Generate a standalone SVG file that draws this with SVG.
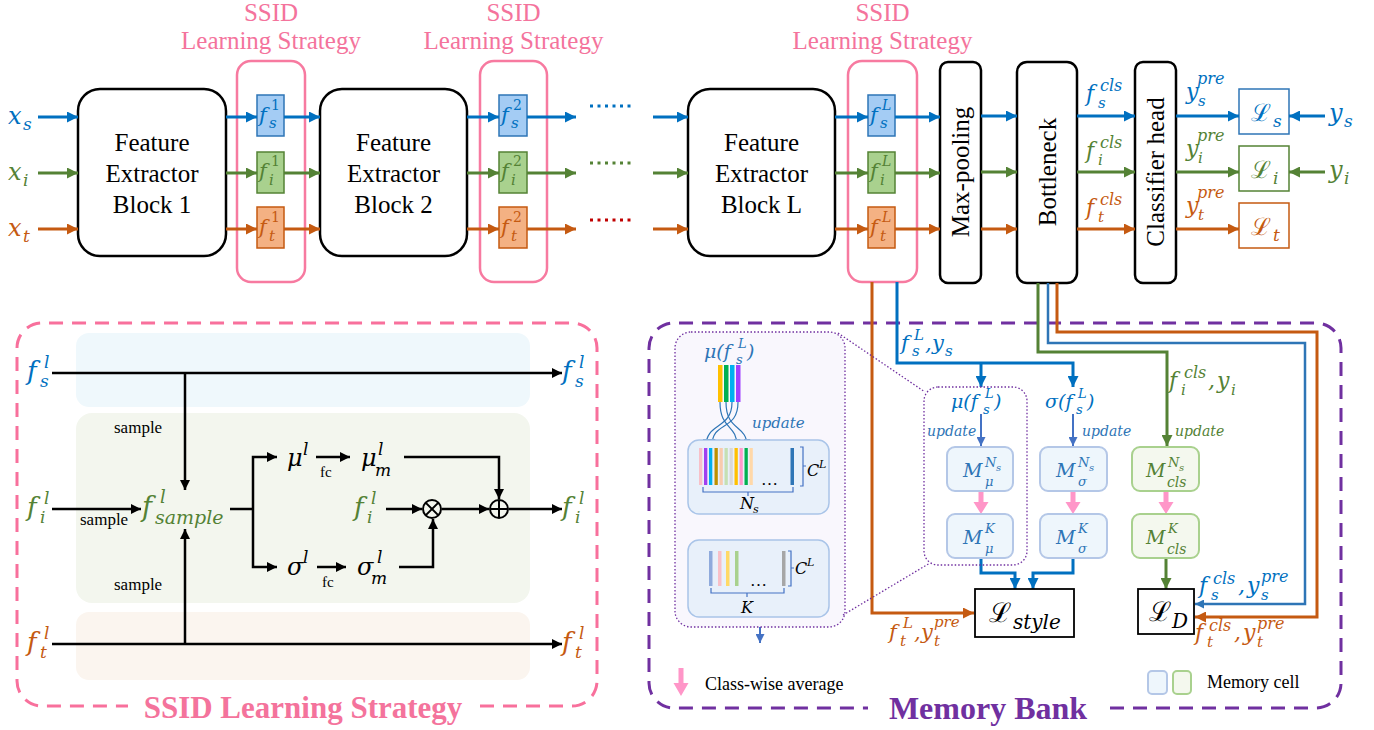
<svg xmlns="http://www.w3.org/2000/svg" width="1374" height="730" viewBox="0 0 1374 730">
<style>
.t{font-family:"Liberation Serif","Times New Roman",serif;fill:#000}
.m{font-family:"DejaVu Serif",serif;font-style:italic}
.up{font-family:"DejaVu Serif",serif;font-style:normal}
.cb{fill:#0070C0}.cg{fill:#548235}.co{fill:#C55A11}.cm{fill:#2E75B6}.cp{fill:#F4739C}
.blk{fill:#fff;stroke:#000;stroke-width:2.5}
.pk{fill:none;stroke:#F77AA0;stroke-width:2.5}
.lb{fill:none;stroke:#0070C0;stroke-width:3}
.lg{fill:none;stroke:#548235;stroke-width:3}
.lo{fill:none;stroke:#C55A11;stroke-width:3}
.lk{fill:none;stroke:#000;stroke-width:2.5}
.sb{fill:#A4CCF4;stroke:#2E75B6;stroke-width:1.5}
.sg{fill:#A9D18E;stroke:#548235;stroke-width:1.5}
.so{fill:#F4B183;stroke:#C55A11;stroke-width:1.5}
.memb{fill:#EEF6FC;stroke:#B4C7E7;stroke-width:2}
.memg{fill:#F4F8EE;stroke:#A9D18E;stroke-width:2}
.dot{fill:none;stroke:#7030A0;stroke-width:1.3;stroke-dasharray:1.5 2}
</style>
<defs>
<marker id="ab" viewBox="0 0 10 10" refX="10" refY="5" markerWidth="13" markerHeight="11" markerUnits="userSpaceOnUse" orient="auto"><path d="M0,0L10,5L0,10z" fill="#0070C0"/></marker>
<marker id="ag" viewBox="0 0 10 10" refX="10" refY="5" markerWidth="13" markerHeight="11" markerUnits="userSpaceOnUse" orient="auto"><path d="M0,0L10,5L0,10z" fill="#548235"/></marker>
<marker id="ao" viewBox="0 0 10 10" refX="10" refY="5" markerWidth="13" markerHeight="11" markerUnits="userSpaceOnUse" orient="auto"><path d="M0,0L10,5L0,10z" fill="#C55A11"/></marker>
<marker id="ak" viewBox="0 0 10 10" refX="10" refY="5" markerWidth="11" markerHeight="10" markerUnits="userSpaceOnUse" orient="auto"><path d="M0,0L10,5L0,10z" fill="#000"/></marker>
<marker id="am" viewBox="0 0 10 10" refX="10" refY="5" markerWidth="10" markerHeight="9" markerUnits="userSpaceOnUse" orient="auto"><path d="M0,0L10,5L0,10z" fill="#4472C4"/></marker>
<marker id="ac" viewBox="0 0 10 10" refX="10" refY="5" markerWidth="10" markerHeight="9" markerUnits="userSpaceOnUse" orient="auto"><path d="M0,0L10,5L0,10z" fill="#2E75B6"/></marker>
<marker id="as" viewBox="0 0 10 10" refX="10" refY="5" markerWidth="7" markerHeight="7" markerUnits="userSpaceOnUse" orient="auto"><path d="M0,0L10,5L0,10z" fill="#2E75B6"/></marker>
</defs>

<!-- panels -->
<g id="ssid-panel">
<rect x="76" y="333" width="454" height="74" rx="13" fill="#EFF8FC"/>
<rect x="76" y="413" width="454" height="190" rx="16" fill="#F3F6EE"/>
<rect x="76" y="612" width="454" height="68" rx="13" fill="#FBF5EF"/>
<path d="M480,706 L572,706 A25,25 0 0 0 597,681 L597,348 A25,25 0 0 0 572,323 L42,323 A25,25 0 0 0 17,348 L17,681 A25,25 0 0 0 42,706 L128,706" fill="none" stroke="#F8709C" stroke-width="3" stroke-dasharray="14 9"/>
<text x="303" y="718" text-anchor="middle" class="t cp" font-size="31" font-weight="bold">SSID Learning Strategy</text>
</g>
<g id="memory-bank-panel">
<path d="M1110,708 L1316,708 A25,25 0 0 0 1341,683 L1341,348 A25,25 0 0 0 1316,323 L674,323 A25,25 0 0 0 649,348 L649,683 A25,25 0 0 0 674,708 L868,708" fill="none" stroke="#7030A0" stroke-width="3" stroke-dasharray="14 9"/>
<text x="988" y="719" text-anchor="middle" class="t" style="fill:#7030A0" font-size="32" font-weight="bold">Memory Bank</text>
</g>

<!-- top nodes -->
<g id="inputs">
<text class="m cb" font-size="24"><tspan x="8" y="124">x</tspan><tspan x="23" y="130" font-size="17">s</tspan></text>
<text class="m cg" font-size="24"><tspan x="8" y="180">x</tspan><tspan x="23" y="186" font-size="17">i</tspan></text>
<text class="m co" font-size="24"><tspan x="8" y="236">x</tspan><tspan x="23" y="242" font-size="17">t</tspan></text>
</g>
<g id="block1"><rect class="blk" x="78" y="89" width="148" height="167" rx="22"/>
<text class="t" font-size="25" text-anchor="middle"><tspan x="152" y="151">Feature</tspan><tspan x="152" y="182">Extractor</tspan><tspan x="152" y="213">Block 1</tspan></text></g>
<g id="block2"><rect class="blk" x="320" y="89" width="147" height="167" rx="22"/>
<text class="t" font-size="25" text-anchor="middle"><tspan x="393.5" y="151">Feature</tspan><tspan x="393.5" y="182">Extractor</tspan><tspan x="393.5" y="213">Block 2</tspan></text></g>
<g id="blockL"><rect class="blk" x="688" y="89" width="147" height="167" rx="22"/>
<text class="t" font-size="25" text-anchor="middle"><tspan x="761.5" y="151">Feature</tspan><tspan x="761.5" y="182">Extractor</tspan><tspan x="761.5" y="213">Block L</tspan></text></g>

<g id="ssid1">
<text class="t cp" font-size="25" text-anchor="middle"><tspan x="271" y="21">SSID</tspan><tspan x="271" y="49">Learning Strategy</tspan></text>
<rect class="pk" x="237" y="61" width="68" height="221" rx="14"/>
<rect class="sb" x="257" y="95" width="27" height="41"/><rect class="sg" x="257" y="152" width="27" height="41"/><rect class="so" x="257" y="207" width="27" height="41"/>
<text class="m cb" font-size="21"><tspan x="259" y="122">f</tspan><tspan x="269" y="128" font-size="15">s</tspan><tspan x="271" y="110" font-size="14" class="up">1</tspan></text>
<text class="m cg" font-size="21"><tspan x="259" y="178">f</tspan><tspan x="269" y="185" font-size="15">i</tspan><tspan x="271" y="166" font-size="14" class="up">1</tspan></text>
<text class="m co" font-size="21"><tspan x="259" y="234">f</tspan><tspan x="269" y="241" font-size="15">t</tspan><tspan x="271" y="222" font-size="14" class="up">1</tspan></text>
</g>
<g id="ssid2">
<text class="t cp" font-size="25" text-anchor="middle"><tspan x="513.5" y="21">SSID</tspan><tspan x="513.5" y="49">Learning Strategy</tspan></text>
<rect class="pk" x="480" y="61" width="67" height="221" rx="14"/>
<rect class="sb" x="499" y="95" width="28" height="41"/><rect class="sg" x="499" y="152" width="28" height="41"/><rect class="so" x="499" y="207" width="28" height="41"/>
<text class="m cb" font-size="21"><tspan x="501" y="122">f</tspan><tspan x="511" y="128" font-size="15">s</tspan><tspan x="513" y="110" font-size="14" class="up">2</tspan></text>
<text class="m cg" font-size="21"><tspan x="501" y="178">f</tspan><tspan x="511" y="185" font-size="15">i</tspan><tspan x="513" y="166" font-size="14" class="up">2</tspan></text>
<text class="m co" font-size="21"><tspan x="501" y="234">f</tspan><tspan x="511" y="241" font-size="15">t</tspan><tspan x="513" y="222" font-size="14" class="up">2</tspan></text>
</g>
<g id="ssidL">
<text class="t cp" font-size="25" text-anchor="middle"><tspan x="882.5" y="21">SSID</tspan><tspan x="882.5" y="49">Learning Strategy</tspan></text>
<rect class="pk" x="848" y="61" width="69" height="221" rx="14"/>
<rect class="sb" x="868" y="95" width="27" height="41"/><rect class="sg" x="868" y="152" width="27" height="41"/><rect class="so" x="868" y="207" width="27" height="41"/>
<text class="m cb" font-size="21"><tspan x="870" y="122">f</tspan><tspan x="880" y="128" font-size="15">s</tspan><tspan x="882" y="110" font-size="14">L</tspan></text>
<text class="m cg" font-size="21"><tspan x="870" y="178">f</tspan><tspan x="880" y="185" font-size="15">i</tspan><tspan x="882" y="166" font-size="14">L</tspan></text>
<text class="m co" font-size="21"><tspan x="870" y="234">f</tspan><tspan x="880" y="241" font-size="15">t</tspan><tspan x="882" y="222" font-size="14">L</tspan></text>
</g>
<g id="maxpool"><rect class="blk" x="940" y="62" width="41" height="221" rx="8"/>
<text class="t" font-size="25" text-anchor="middle" transform="translate(969,172) rotate(-90)">Max-pooling</text></g>
<g id="bottleneck"><rect class="blk" x="1017" y="62" width="60" height="221" rx="10"/>
<text class="t" font-size="25" text-anchor="middle" transform="translate(1056,172) rotate(-90)">Bottleneck</text></g>
<g id="classifier"><rect class="blk" x="1135" y="62" width="41" height="221" rx="8"/>
<text class="t" font-size="25" text-anchor="middle" transform="translate(1164,172) rotate(-90)">Classifier head</text></g>
<g id="losses">
<rect x="1239" y="89" width="50" height="45" fill="#fff" stroke="#2E75B6" stroke-width="1.5"/>
<rect x="1239" y="146" width="50" height="45" fill="#fff" stroke="#548235" stroke-width="1.5"/>
<rect x="1239" y="203" width="50" height="45" fill="#fff" stroke="#C55A11" stroke-width="1.5"/>
<text class="m cb" font-size="24"><tspan x="1251" y="121" class="up">ℒ</tspan><tspan x="1273" y="127" font-size="17">s</tspan></text>
<text class="m cg" font-size="24"><tspan x="1251" y="178" class="up">ℒ</tspan><tspan x="1273" y="184" font-size="17">i</tspan></text>
<text class="m co" font-size="24"><tspan x="1251" y="235" class="up">ℒ</tspan><tspan x="1273" y="241" font-size="17">t</tspan></text>
<text class="m cb" font-size="24"><tspan x="1329" y="121">y</tspan><tspan x="1344" y="127" font-size="17">s</tspan></text>
<text class="m cg" font-size="24"><tspan x="1329" y="178">y</tspan><tspan x="1344" y="184" font-size="17">i</tspan></text>
</g>

<!-- connectors -->
<g id="connectors">
<path class="lb" d="M38,117H78" marker-end="url(#ab)"/><path class="lg" d="M38,173H78" marker-end="url(#ag)"/><path class="lo" d="M38,229H78" marker-end="url(#ao)"/>
<path class="lb" d="M226,117H257" marker-end="url(#ab)"/><path class="lg" d="M226,173H257" marker-end="url(#ag)"/><path class="lo" d="M226,229H257" marker-end="url(#ao)"/>
<path class="lb" d="M284,117H320" marker-end="url(#ab)"/><path class="lg" d="M284,173H320" marker-end="url(#ag)"/><path class="lo" d="M284,229H320" marker-end="url(#ao)"/>
<path class="lb" d="M467,117H499" marker-end="url(#ab)"/><path class="lg" d="M467,173H499" marker-end="url(#ag)"/><path class="lo" d="M467,229H499" marker-end="url(#ao)"/>
<path class="lb" d="M527,117H576" marker-end="url(#ab)"/><path class="lg" d="M527,173H576" marker-end="url(#ag)"/><path class="lo" d="M527,229H576" marker-end="url(#ao)"/>
<path d="M590,106H635" fill="none" stroke="#0070C0" stroke-width="3" stroke-dasharray="3 4.5"/>
<path d="M590,163H635" fill="none" stroke="#548235" stroke-width="3" stroke-dasharray="3 4.5"/>
<path d="M590,220H635" fill="none" stroke="#C00000" stroke-width="3" stroke-dasharray="3 4.5"/>
<path class="lb" d="M653,117H688" marker-end="url(#ab)"/><path class="lg" d="M653,173H688" marker-end="url(#ag)"/><path class="lo" d="M653,229H688" marker-end="url(#ao)"/>
<path class="lb" d="M835,117H868" marker-end="url(#ab)"/><path class="lg" d="M835,173H868" marker-end="url(#ag)"/><path class="lo" d="M835,229H868" marker-end="url(#ao)"/>
<path class="lb" d="M895,117H940" marker-end="url(#ab)"/><path class="lg" d="M895,173H940" marker-end="url(#ag)"/><path class="lo" d="M895,229H940" marker-end="url(#ao)"/>
<path class="lb" d="M981,116H1017" marker-end="url(#ab)"/><path class="lg" d="M981,172H1017" marker-end="url(#ag)"/><path class="lo" d="M981,229H1017" marker-end="url(#ao)"/>
<path class="lb" d="M1077,116H1135" marker-end="url(#ab)"/><path class="lg" d="M1077,172H1135" marker-end="url(#ag)"/><path class="lo" d="M1077,229H1135" marker-end="url(#ao)"/>
<path class="lb" d="M1176,116H1239" marker-end="url(#ab)"/><path class="lg" d="M1176,172H1239" marker-end="url(#ag)"/><path class="lo" d="M1176,229H1239" marker-end="url(#ao)"/>
<path class="lb" d="M1325,116H1289" marker-end="url(#ab)"/><path class="lg" d="M1325,172H1289" marker-end="url(#ag)"/>

<!-- SSID panel connectors -->
<path class="lk" d="M52,373H562" marker-end="url(#ak)"/>
<path class="lk" d="M185,373V490" marker-end="url(#ak)"/>
<path class="lk" d="M52,644H562" marker-end="url(#ak)"/>
<path class="lk" d="M185,644V529" marker-end="url(#ak)"/>
<path class="lk" d="M52,509H141" marker-end="url(#ak)"/>
<path class="lk" d="M230,509H253"/>
<path class="lk" d="M253,509V457H277" marker-end="url(#ak)"/>
<path class="lk" d="M253,509V567H277" marker-end="url(#ak)"/>
<path class="lk" d="M316,457H350" marker-end="url(#ak)"/>
<path class="lk" d="M317,567H346" marker-end="url(#ak)"/>
<path class="lk" d="M404,457H499V499" marker-end="url(#ak)"/>
<path class="lk" d="M386,509H422" marker-end="url(#ak)"/>
<path class="lk" d="M442,509H489" marker-end="url(#ak)"/>
<path class="lk" d="M509,509H562" marker-end="url(#ak)"/>
<path class="lk" d="M399,567H433V519" marker-end="url(#ak)"/>

<!-- memory bank connectors -->
<path class="lo" stroke-width="2.5" d="M872,282V613H974" marker-end="url(#ao)"/>
<path class="lb" stroke-width="2.5" d="M897,282V363H1073V387" marker-end="url(#ab)"/>
<path class="lb" stroke-width="2.5" d="M981,363V387" marker-end="url(#ab)"/>
<path d="M981,414V446" fill="none" stroke="#4472C4" stroke-width="2" marker-end="url(#am)"/>
<path d="M1073,414V446" fill="none" stroke="#4472C4" stroke-width="2" marker-end="url(#am)"/>
<path class="lb" stroke-width="2.5" d="M981,558V573H1015V589" marker-end="url(#ab)"/>
<path class="lb" stroke-width="2.5" d="M1073,558V573H1033V589" marker-end="url(#ab)"/>
<path class="lg" stroke-width="2.5" d="M1038,283V352H1167V446" marker-end="url(#ag)"/>
<path fill="none" stroke="#2E75B6" stroke-width="2.5" d="M1048,283V343H1305V604H1195" marker-end="url(#ac)"/>
<path class="lo" stroke-width="2.5" d="M1057,283V332H1317V617H1195" marker-end="url(#ao)"/>
<path class="lg" stroke-width="2.5" d="M1166,558V589" marker-end="url(#ag)"/>
<g fill="#FF96C8">
<path d="M758,514h5v14h5l-7.5,12l-7.5,-12h5z"/>
<path d="M978.5,491h5v11h5l-7.5,12l-7.5,-12h5z"/>
<path d="M1070.5,491h5v11h5l-7.5,12l-7.5,-12h5z"/>
<path d="M1163.5,491h5v11h5l-7.5,12l-7.5,-12h5z"/>
</g>
<path d="M760,617V643" fill="none" stroke="#4472C4" stroke-width="2" marker-end="url(#am)"/>
</g>

<!-- SSID panel labels -->
<g id="ssid-labels">
<text class="m cb" font-size="26"><tspan x="27" y="380">f</tspan><tspan x="40" y="387" font-size="17">s</tspan><tspan x="44" y="368" font-size="17">l</tspan></text>
<text class="m cg" font-size="26"><tspan x="27" y="516">f</tspan><tspan x="40" y="523" font-size="17">i</tspan><tspan x="44" y="504" font-size="17">l</tspan></text>
<text class="m co" font-size="26"><tspan x="27" y="651">f</tspan><tspan x="40" y="658" font-size="17">t</tspan><tspan x="44" y="639" font-size="17">l</tspan></text>
<text class="m cb" font-size="26"><tspan x="562" y="380">f</tspan><tspan x="575" y="387" font-size="17">s</tspan><tspan x="579" y="368" font-size="17">l</tspan></text>
<text class="m cg" font-size="26"><tspan x="562" y="516">f</tspan><tspan x="575" y="523" font-size="17">i</tspan><tspan x="579" y="504" font-size="17">l</tspan></text>
<text class="m co" font-size="26"><tspan x="562" y="651">f</tspan><tspan x="575" y="658" font-size="17">t</tspan><tspan x="579" y="639" font-size="17">l</tspan></text>
<text class="t" font-size="17"><tspan x="114" y="433">sample</tspan><tspan x="80" y="525">sample</tspan><tspan x="114" y="590">sample</tspan></text>
<text class="m cg" font-size="27"><tspan x="142" y="516">f</tspan><tspan x="155" y="524" font-size="19">sample</tspan><tspan x="160" y="503" font-size="18">l</tspan></text>
<text class="m" font-size="24"><tspan x="287" y="466">μ</tspan><tspan x="303" y="455" font-size="17">l</tspan></text>
<text class="m" font-size="24"><tspan x="287" y="575">σ</tspan><tspan x="303" y="563" font-size="17">l</tspan></text>
<text class="t" font-size="15"><tspan x="320" y="477">fc</tspan><tspan x="322" y="587">fc</tspan></text>
<text class="m" font-size="24"><tspan x="361" y="466">μ</tspan><tspan x="375" y="476" font-size="17">m</tspan><tspan x="378" y="455" font-size="17">l</tspan></text>
<text class="m" font-size="24"><tspan x="357" y="575">σ</tspan><tspan x="371" y="584" font-size="17">m</tspan><tspan x="377" y="563" font-size="17">l</tspan></text>
<text class="m cg" font-size="26"><tspan x="354" y="516">f</tspan><tspan x="367" y="523" font-size="17">i</tspan><tspan x="371" y="504" font-size="17">l</tspan></text>
<g fill="none" stroke="#000" stroke-width="2">
<circle cx="432" cy="509" r="9"/><path d="M425.6,502.6L438.4,515.4M438.4,502.6L425.6,515.4"/>
<circle cx="499" cy="509" r="9"/><path d="M490,509H508M499,500V518"/>
</g>
</g>

<!-- memory bank content -->
<g id="memory-detail">
<rect x="675" y="332" width="170" height="295" rx="16" class="dot" style="fill:#F9F7FD"/>
<path class="dot" d="M838,333L925,392M843,615L930,563"/>
<text class="m cm" font-size="19"><tspan x="704" y="358">μ(f</tspan><tspan x="736" y="364" font-size="13">s</tspan><tspan x="738" y="348" font-size="13">L</tspan><tspan x="747" y="358">)</tspan></text>
<rect x="718" y="365" width="4.5" height="37" fill="#FFC000"/><rect x="724" y="365" width="4.5" height="37" fill="#00B050"/><rect x="730" y="365" width="4.5" height="37" fill="#00B0F0"/><rect x="736" y="365" width="4.5" height="37" fill="#A040FF"/>
<g fill="none" stroke="#2E75B6" stroke-width="1.2">
<path d="M720,402C720,430 737,424 737,446" marker-end="url(#as)"/>
<path d="M726,402C726,432 747,424 747,446" marker-end="url(#as)"/>
<path d="M732,402C732,430 706,422 706,446" marker-end="url(#as)"/>
<path d="M738,402C738,432 712,420 712,446" marker-end="url(#as)"/>
</g>
<text x="752" y="428" class="m cm" font-size="15">update</text>
<rect x="688" y="440" width="141" height="74" rx="11" fill="#E8F0FA" stroke="#A9C4E8" stroke-width="1.5"/>
<g>
<rect x="699" y="448" width="3.3" height="37" fill="#F8C0C8"/>
<rect x="704" y="448" width="3.3" height="37" fill="#A040F0"/>
<rect x="709" y="448" width="3.3" height="37" fill="#00B0F0"/>
<rect x="714.5" y="448" width="3.3" height="37" fill="#BF9000"/>
<rect x="719.5" y="448" width="3.3" height="37" fill="#F8CBAD"/>
<rect x="724.5" y="448" width="3.3" height="37" fill="#C5E0B4"/>
<rect x="729.5" y="448" width="3.3" height="37" fill="#D9D9D9"/>
<rect x="734.5" y="448" width="3.3" height="37" fill="#FFC000"/>
<rect x="739.5" y="448" width="3.3" height="37" fill="#FF99CC"/>
<rect x="744.5" y="448" width="3.3" height="37" fill="#00B050"/>
<rect x="749.5" y="448" width="3.3" height="37" fill="#FFD8A8"/>
<rect x="790.5" y="448" width="3.5" height="37" fill="#2E75B6"/>
</g>
<text x="761" y="485" class="t" font-size="17">…</text>
<path d="M800,447H803V486H800M803,466H806M703,487V492H793V487M748,492V496" fill="none" stroke="#4472C4" stroke-width="1.2"/>
<text class="m" font-size="16"><tspan x="807" y="476">C</tspan><tspan x="819" y="468" font-size="11">L</tspan></text>
<text class="m" font-size="16"><tspan x="740" y="509">N</tspan><tspan x="753" y="513" font-size="11">s</tspan></text>
<rect x="688" y="540" width="141" height="77" rx="11" fill="#E8F0FA" stroke="#A9C4E8" stroke-width="1.5"/>
<rect x="709" y="551" width="3.5" height="35" fill="#8FAADC"/><rect x="718" y="551" width="3.5" height="35" fill="#F8C0C8"/><rect x="726" y="551" width="3.5" height="35" fill="#FFD966"/><rect x="735" y="551" width="3.5" height="35" fill="#A9D18E"/><rect x="782" y="551" width="3.5" height="35" fill="#A6A6A6"/>
<text x="750" y="586" class="t" font-size="17">…</text>
<path d="M788,551H791V586H788M791,568H794M711,588V593H784V588M747,593V597" fill="none" stroke="#4472C4" stroke-width="1.2"/>
<text class="m" font-size="16"><tspan x="795" y="574">C</tspan><tspan x="807" y="566" font-size="11">L</tspan></text>
<text x="741" y="613" class="m" font-size="16">K</text>
</g>

<g id="memory-style">
<rect x="924" y="387" width="103" height="178" rx="14" class="dot"/>
<text class="m cb" font-size="19"><tspan x="951" y="408">μ(f</tspan><tspan x="983" y="414" font-size="13">s</tspan><tspan x="985" y="398" font-size="13">L</tspan><tspan x="994" y="408">)</tspan></text>
<text class="m cb" font-size="19"><tspan x="1045" y="408">σ(f</tspan><tspan x="1076" y="414" font-size="13">s</tspan><tspan x="1078" y="398" font-size="13">L</tspan><tspan x="1087" y="408">)</tspan></text>
<text class="m cm" font-size="14"><tspan x="927" y="436">update</tspan><tspan x="1082" y="436">update</tspan></text>
<rect class="memb" x="947" y="447" width="66" height="44" rx="8"/>
<rect class="memb" x="1040" y="447" width="67" height="44" rx="8"/>
<rect class="memb" x="947" y="514" width="66" height="44" rx="8"/>
<rect class="memb" x="1040" y="514" width="67" height="44" rx="8"/>
<text class="m cm" font-size="19"><tspan x="963" y="477">M</tspan><tspan x="985" y="467" font-size="13">N</tspan><tspan x="996" y="471" font-size="10">s</tspan><tspan x="985" y="486" font-size="13">μ</tspan></text>
<text class="m cm" font-size="19"><tspan x="1056" y="477">M</tspan><tspan x="1078" y="467" font-size="13">N</tspan><tspan x="1089" y="471" font-size="10">s</tspan><tspan x="1078" y="486" font-size="13">σ</tspan></text>
<text class="m cm" font-size="19"><tspan x="963" y="544">M</tspan><tspan x="985" y="533" font-size="13">K</tspan><tspan x="985" y="553" font-size="13">μ</tspan></text>
<text class="m cm" font-size="19"><tspan x="1056" y="544">M</tspan><tspan x="1078" y="533" font-size="13">K</tspan><tspan x="1078" y="553" font-size="13">σ</tspan></text>
<rect class="blk" style="stroke-width:1.8" x="975" y="589" width="99" height="48"/>
<text class="m" font-size="27"><tspan x="989" y="622" class="up">ℒ</tspan><tspan x="1013" y="629" font-size="20">style</tspan></text>
<text class="m cb" font-size="21"><tspan x="901" y="350">f</tspan><tspan x="912" y="356" font-size="15">s</tspan><tspan x="914" y="340" font-size="15">L</tspan><tspan x="925" y="350">,</tspan><tspan x="932" y="350">y</tspan><tspan x="945" y="356" font-size="15">s</tspan></text>
<text class="m co" font-size="21"><tspan x="889" y="639">f</tspan><tspan x="900" y="646" font-size="15">t</tspan><tspan x="903" y="628" font-size="15">L</tspan><tspan x="914" y="639">,</tspan><tspan x="921" y="639">y</tspan><tspan x="934" y="646" font-size="15">t</tspan><tspan x="934" y="627" font-size="15">pre</tspan></text>
</g>

<g id="memory-cls">
<rect class="memg" x="1132" y="447" width="67" height="44" rx="8"/>
<rect class="memg" x="1132" y="514" width="67" height="44" rx="8"/>
<text class="m cg" font-size="19"><tspan x="1146" y="477">M</tspan><tspan x="1168" y="467" font-size="13">N</tspan><tspan x="1179" y="471" font-size="10">s</tspan><tspan x="1167" y="487" font-size="14">cls</tspan></text>
<text class="m cg" font-size="19"><tspan x="1146" y="544">M</tspan><tspan x="1168" y="533" font-size="13">K</tspan><tspan x="1167" y="554" font-size="14">cls</tspan></text>
<text x="1175" y="436" class="m cg" font-size="14">update</text>
<text class="m cg" font-size="22"><tspan x="1169" y="388">f</tspan><tspan x="1181" y="395" font-size="15">i</tspan><tspan x="1184" y="378" font-size="16">cls</tspan><tspan x="1208" y="388">,</tspan><tspan x="1217" y="388">y</tspan><tspan x="1231" y="395" font-size="15">i</tspan></text>
<rect class="blk" style="stroke-width:1.8" x="1138" y="589" width="56" height="45"/>
<text class="m" font-size="27"><tspan x="1149" y="621" class="up">ℒ</tspan><tspan x="1172" y="628" font-size="20">D</tspan></text>
<text class="m cb" font-size="22"><tspan x="1199" y="593">f</tspan><tspan x="1211" y="600" font-size="15">s</tspan><tspan x="1213" y="584" font-size="16">cls</tspan><tspan x="1238" y="593">,</tspan><tspan x="1247" y="593">y</tspan><tspan x="1261" y="600" font-size="15">s</tspan><tspan x="1261" y="582" font-size="16">pre</tspan></text>
<text class="m co" font-size="22"><tspan x="1195" y="640">f</tspan><tspan x="1207" y="647" font-size="15">t</tspan><tspan x="1209" y="631" font-size="16">cls</tspan><tspan x="1234" y="640">,</tspan><tspan x="1243" y="640">y</tspan><tspan x="1257" y="647" font-size="15">t</tspan><tspan x="1257" y="629" font-size="16">pre</tspan></text>
</g>

<g id="cls-labels">
<text class="m cb" font-size="22"><tspan x="1086" y="101">f</tspan><tspan x="1098" y="108" font-size="15">s</tspan><tspan x="1100" y="91" font-size="16">cls</tspan></text>
<text class="m cg" font-size="22"><tspan x="1086" y="158">f</tspan><tspan x="1098" y="165" font-size="15">i</tspan><tspan x="1100" y="148" font-size="16">cls</tspan></text>
<text class="m co" font-size="22"><tspan x="1086" y="215">f</tspan><tspan x="1098" y="222" font-size="15">t</tspan><tspan x="1100" y="205" font-size="16">cls</tspan></text>
<text class="m cb" font-size="22"><tspan x="1186" y="99">y</tspan><tspan x="1198" y="106" font-size="15">s</tspan><tspan x="1197" y="84" font-size="16">pre</tspan></text>
<text class="m cg" font-size="22"><tspan x="1186" y="156">y</tspan><tspan x="1198" y="163" font-size="15">i</tspan><tspan x="1197" y="141" font-size="16">pre</tspan></text>
<text class="m co" font-size="22"><tspan x="1186" y="213">y</tspan><tspan x="1198" y="220" font-size="15">t</tspan><tspan x="1197" y="198" font-size="16">pre</tspan></text>
</g>

<g id="legend">
<path d="M678.5,668h5v15h5l-7.5,13l-7.5,-13h5z" fill="#FF96C8"/>
<text x="705" y="690" class="t" font-size="18">Class-wise average</text>
<rect x="1148" y="671" width="19" height="23" rx="4" class="memb"/>
<rect x="1173" y="671" width="18" height="23" rx="4" class="memg"/>
<text x="1207" y="688" class="t" font-size="18">Memory cell</text>
</g>
</svg>
